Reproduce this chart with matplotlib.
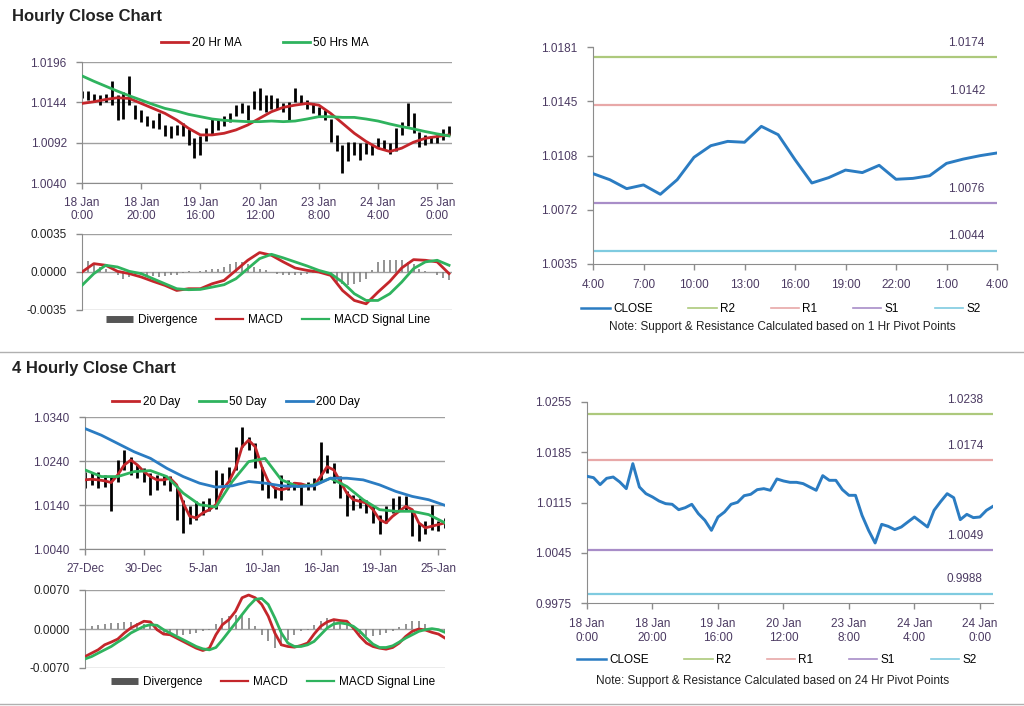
import matplotlib
matplotlib.use('Agg')
import matplotlib.pyplot as plt
from matplotlib.lines import Line2D

plt.rcParams['font.family'] = ['Liberation Sans', 'DejaVu Sans']
plt.rcParams['font.size'] = 8.5

# ---------------- Hourly chart data (2-hour candles, hours 0..124) ----------------
tl_hi = [1.0159, 1.0158, 1.0155, 1.0153, 1.0155, 1.0172, 1.0153, 1.0157, 1.0178, 1.0140,
         1.0134, 1.0126, 1.0121, 1.0130, 1.0115, 1.0113, 1.0115, 1.0117, 1.0109, 1.0098,
         1.0100, 1.0111, 1.0123, 1.0121, 1.0126, 1.0130, 1.0140, 1.0143, 1.0140, 1.0158,
         1.0162, 1.0153, 1.0153, 1.0149, 1.0143, 1.0145, 1.0162, 1.0153, 1.0147, 1.0143,
         1.0138, 1.0134, 1.0123, 1.0102, 1.0089, 1.0093, 1.0093, 1.0091, 1.0091, 1.0089,
         1.0098, 1.0096, 1.0091, 1.0111, 1.0119, 1.0143, 1.0130, 1.0106, 1.0102, 1.0100,
         1.0102, 1.0109, 1.0113]
tl_lo = [1.0149, 1.0147, 1.0145, 1.0140, 1.0144, 1.0141, 1.0121, 1.0123, 1.0140, 1.0123,
         1.0119, 1.0113, 1.0111, 1.0109, 1.0100, 1.0098, 1.0102, 1.0100, 1.0089, 1.0072,
         1.0076, 1.0094, 1.0102, 1.0108, 1.0113, 1.0119, 1.0126, 1.0130, 1.0121, 1.0136,
         1.0134, 1.0132, 1.0136, 1.0136, 1.0132, 1.0121, 1.0145, 1.0143, 1.0136, 1.0130,
         1.0126, 1.0121, 1.0093, 1.0081, 1.0053, 1.0068, 1.0076, 1.0070, 1.0078, 1.0076,
         1.0087, 1.0083, 1.0078, 1.0081, 1.0102, 1.0113, 1.0104, 1.0087, 1.0089, 1.0091,
         1.0091, 1.0096, 1.0102]
# moving averages every 4 hours
tl_ma20 = [1.01426, 1.01447, 1.01477, 1.01499, 1.0149, 1.01426, 1.01362, 1.01298, 1.01212, 1.01105,
           1.0102, 1.0102, 1.01041, 1.01084, 1.01148, 1.01234, 1.01319, 1.01375, 1.01404, 1.01426,
           1.01404, 1.01298, 1.0117, 1.01041, 1.00935, 1.00849, 1.00806, 1.00849, 1.00926, 1.00977,
           1.00999, 1.0102]
tl_ma50 = [1.01781, 1.01712, 1.01648, 1.01584, 1.01524, 1.01469, 1.01413, 1.01362, 1.01328, 1.01285,
           1.01255, 1.01225, 1.01208, 1.01199, 1.01191, 1.01191, 1.01199, 1.01191, 1.01199, 1.01225,
           1.01255, 1.01255, 1.01246, 1.01246, 1.01225, 1.01199, 1.01161, 1.01127, 1.01097, 1.01063,
           1.01033, 1.01007]
tl_macd = [0.0, 0.00077, 0.00062, 0.00006, -0.00015, -0.00046, -0.00086, -0.00123, -0.0017, -0.00154,
           -0.00154, -0.00108, -0.00077, 0.00015, 0.00108, 0.00179, 0.00154, 0.00093, 0.00037, 0.00015,
           0.0, -0.00031, -0.0017, -0.00262, -0.00293, -0.00185, -0.00086, 0.00037, 0.00114, 0.00108,
           0.00093, -0.00015]
tl_signal = [-0.00123, -0.00015, 0.00062, 0.00046, 0.00006, -0.00015, -0.00062, -0.00108, -0.00154, -0.00163,
             -0.0016, -0.00139, -0.00117, -0.00062, 0.00031, 0.00123, 0.00163, 0.0013, 0.00093, 0.00056,
             0.00015, -0.00015, -0.00093, -0.002, -0.00262, -0.00262, -0.002, -0.00093, 0.00031, 0.00093,
             0.00108, 0.00062]
tl_div = [0.0011, 0.001, 0.0008, 0.0005, 0.0003, 0.0, -0.0003, -0.0006, -0.0005, -0.0003,
          -0.00025, -0.0003, -0.00035, -0.00045, -0.0004, -0.0003, -0.00025, -0.0001, 0.00005, 0.0,
          0.00005, 0.00015, 0.00025, 0.0003, 0.00045, 0.00075, 0.0009, 0.0009, 0.00075, 0.00045,
          0.0003, 0.00015, 0.0, -0.00015, -0.0003, -0.0003, -0.0003, -0.00025, -0.00015, -0.0001,
          -0.00005, -0.00015, -0.00045, -0.0009, -0.0011, -0.0012, -0.0011, -0.0009, -0.0006, 0.00015,
          0.0009, 0.0011, 0.0011, 0.0011, 0.0011, 0.0009, 0.00075, 0.0003, 0.0001, 0.0,
          -0.0003, -0.00055, -0.00075]
tl_xlabels = ['18 Jan\n0:00', '18 Jan\n20:00', '19 Jan\n16:00', '20 Jan\n12:00',
              '23 Jan\n8:00', '24 Jan\n4:00', '25 Jan\n0:00']

# ---------------- 1 Hr pivot chart ----------------
tr_close = [1.00958, 1.00917, 1.00857, 1.00882, 1.00819, 1.00917, 1.01068, 1.01146, 1.01175, 1.01169,
            1.01276, 1.0122, 1.01052, 1.00895, 1.00931, 1.00982, 1.00965, 1.01014, 1.0092, 1.00926,
            1.00944, 1.01027, 1.01056, 1.01079, 1.01097]
tr_xlabels = ['4:00', '7:00', '10:00', '13:00', '16:00', '19:00', '22:00', '1:00', '4:00']
tr_levels = [1.0174, 1.0142, 1.0076, 1.0044]

# ---------------- 4 hourly chart data (bars 0..110, every 2nd bar) ----------------
bl_hi = [1.0216, 1.0212, 1.0216, 1.0208, 1.0205, 1.0242, 1.0265, 1.0250, 1.0231, 1.0223,
         1.0212, 1.0208, 1.0208, 1.0205, 1.0182, 1.0152, 1.0137, 1.0148, 1.0148, 1.0156,
         1.0220, 1.0212, 1.0227, 1.0272, 1.0317, 1.0295, 1.0280, 1.0227, 1.0190, 1.0182,
         1.0208, 1.0197, 1.0193, 1.0190, 1.0193, 1.0201, 1.0284, 1.0254, 1.0235, 1.0205,
         1.0171, 1.0163, 1.0156, 1.0152, 1.0137, 1.0118, 1.0137, 1.0156, 1.0160, 1.0160,
         1.0129, 1.0099, 1.0103, 1.0141, 1.0103, 1.0111]
bl_lo = [1.0178, 1.0186, 1.0178, 1.0182, 1.0126, 1.0193, 1.0220, 1.0209, 1.0201, 1.0193,
         1.0163, 1.0175, 1.0186, 1.0171, 1.0107, 1.0077, 1.0096, 1.0107, 1.0118, 1.0126,
         1.0130, 1.0186, 1.0193, 1.0220, 1.0272, 1.0265, 1.0223, 1.0175, 1.0156, 1.0156,
         1.0152, 1.0175, 1.0175, 1.0141, 1.0175, 1.0175, 1.0193, 1.0212, 1.0190, 1.0156,
         1.0114, 1.0129, 1.0133, 1.0122, 1.0099, 1.0073, 1.0099, 1.0122, 1.0129, 1.0126,
         1.0069, 1.0058, 1.0073, 1.0084, 1.0081, 1.0088]
bl_ma20 = [1.01971, 1.01986, 1.01971, 1.01949, 1.01911, 1.02084, 1.0231, 1.02422, 1.0231, 1.02159,
           1.02046, 1.01971, 1.01971, 1.02009, 1.01858, 1.01445, 1.01144, 1.01106, 1.01219, 1.01294,
           1.01407, 1.01746, 1.01934, 1.02234, 1.02723, 1.02874, 1.02723, 1.02272, 1.01934, 1.01783,
           1.01746, 1.01783, 1.01896, 1.01881, 1.01836, 1.01836, 1.02046, 1.02272, 1.02197, 1.01934,
           1.0167, 1.0152, 1.01482, 1.01445, 1.01294, 1.01069, 1.00994, 1.01144, 1.01257, 1.0137,
           1.01294, 1.00994, 1.00881, 1.00918, 1.00956, 1.00994]
# 50 and 200 averages every 5 bars
bl_ma50 = [1.02197, 1.02046, 1.02046, 1.02159, 1.02182, 1.02046, 1.0167, 1.01407, 1.01355, 1.01934,
           1.02385, 1.0246, 1.01971, 1.01821, 1.01858, 1.02009, 1.01821, 1.0152, 1.01294, 1.01257,
           1.01257, 1.01182, 1.00994]
bl_ma200 = [1.03137, 1.02986, 1.02798, 1.0261, 1.0246, 1.02234, 1.02046, 1.01896, 1.01806, 1.01836,
            1.01934, 1.01896, 1.01836, 1.01821, 1.01836, 1.02009, 1.02009, 1.01971, 1.01858, 1.01708,
            1.01595, 1.0152, 1.01392]
bl_macd = [-0.00495, -0.00434, -0.00374, -0.00284, -0.00235, -0.00181, -0.00072, 0.00018, 0.00078, 0.00139,
           0.00127, -0.00012, -0.00091, -0.00103, -0.00163, -0.00223, -0.00284, -0.00344, -0.00386, -0.00344,
           -0.00103, 0.00078, 0.00169, 0.0032, 0.00561, 0.0061, 0.00561, 0.0044, 0.00229, -0.00072,
           -0.00284, -0.00314, -0.00326, -0.00296, -0.00253, -0.00091, 0.00048, 0.00127, 0.00169, 0.00151,
           0.00139, 0.00018, -0.00133, -0.00253, -0.00314, -0.00344, -0.00362, -0.00332, -0.00253, -0.00133,
           -0.00042, 0.0, -0.00018, -0.0006, -0.00091, -0.00163]
bl_signal = [-0.00537, -0.00495, -0.00434, -0.00374, -0.00314, -0.00235, -0.00163, -0.00072, -0.00012, 0.00048,
             0.00078, 0.00066, -0.00012, -0.00072, -0.00133, -0.00193, -0.00253, -0.00314, -0.00356, -0.00374,
             -0.00332, -0.00193, -0.00042, 0.00109, 0.00259, 0.0041, 0.00531, 0.00549, 0.0044, 0.00199,
             -0.00072, -0.00253, -0.00314, -0.00314, -0.00284, -0.00223, -0.00103, 0.00018, 0.00091, 0.00109,
             0.00091, 0.00048, -0.00042, -0.00163, -0.00272, -0.00332, -0.00332, -0.00302, -0.00235, -0.00163,
             -0.00103, -0.00042, -0.00012, 0.00006, -0.00012, -0.0006]
bl_div = [0.00018, 0.00048, 0.00066, 0.00091, 0.00103, 0.00109, 0.00121, 0.00127, 0.00109, 0.00091,
          0.00066, -0.00042, -0.00072, -0.00091, -0.00103, -0.00103, -0.00091, -0.00072, -0.00042, -0.00012,
          0.00091, 0.00199, 0.00229, 0.00259, 0.00272, 0.00199, 0.00048, -0.00103, -0.00223, -0.00344,
          -0.00314, -0.00193, -0.00103, -0.00042, -0.00012, 0.00078, 0.00151, 0.00199, 0.00169, 0.00127,
          0.00078, -0.00012, -0.00091, -0.00133, -0.00133, -0.00103, -0.00072, -0.0003, 0.0003, 0.00091,
          0.00139, 0.00151, 0.00091, 0.00018, -0.00042, -0.00072]
bl_xlabels = ['27-Dec', '30-Dec', '5-Jan', '10-Jan', '16-Jan', '19-Jan', '25-Jan']

# ---------------- 24 Hr pivot chart (every 2 hours) ----------------
br_close = [1.01515, 1.01496, 1.01399, 1.01487, 1.01505, 1.01436, 1.01343, 1.01691, 1.01366, 1.01273,
            1.01227, 1.01171, 1.01134, 1.01125, 1.0105, 1.01078, 1.01125, 1.00995, 1.00902, 1.00762,
            1.00948, 1.01018, 1.01125, 1.01153, 1.01245, 1.01264, 1.01329, 1.01343, 1.0132, 1.01478,
            1.0145, 1.01431, 1.01431, 1.01413, 1.01366, 1.0132, 1.01524, 1.01459, 1.01459, 1.01329,
            1.0125, 1.0125, 1.00971, 1.00762, 1.00586, 1.00846, 1.00818, 1.00772, 1.00809, 1.00879,
            1.00948, 1.00879, 1.00809, 1.01041, 1.01162, 1.01273, 1.01217, 1.00911, 1.00985, 1.00939,
            1.00948, 1.01041, 1.01097]
br_xlabels = ['18 Jan\n0:00', '18 Jan\n20:00', '19 Jan\n16:00', '20 Jan\n12:00',
              '23 Jan\n8:00', '24 Jan\n4:00', '24 Jan\n0:00']
br_levels = [1.0238, 1.0174, 1.0049, 0.9988]

# ---------------- styling ----------------
TICKC = '#4b3a62'
AXC = '#8c8c8c'
RED = '#c4262b'
GREEN = '#2fb35e'
BLUE = '#2b7cc2'
LVL_COLORS = ['#adc97c', '#e8a8a8', '#a88dc8', '#7fcbe0']
LVL_NAMES = ['R2', 'R1', 'S1', 'S2']

W, H = 1024, 706
fig = plt.figure(figsize=(W / 100, H / 100), dpi=100)


def box(l, t, r, b):
    return fig.add_axes([l / W, 1 - b / H, (r - l) / W, (b - t) / H])


def style(ax, grid=True):
    for s in ['top', 'right']:
        ax.spines[s].set_visible(False)
    for s in ['left', 'bottom']:
        ax.spines[s].set_color(AXC)
    ax.tick_params(length=4, color=AXC, width=1, labelsize=8.5)
    ax.tick_params(axis='y', pad=7)
    if grid:
        ax.grid(axis='y', color='#a0a0a0', lw=1)
        ax.set_axisbelow(True)


def price_panel(ax, xs, hi, lo, yt):
    ax.vlines(xs, lo, hi, color='black', lw=2.0, zorder=2)
    ax.set_ylim(yt[0], yt[-1])
    ax.set_yticks(yt)
    ax.set_yticklabels(['%.4f' % v for v in yt])
    style(ax)
    ax.tick_params(axis='both', labelcolor=TICKC)
    ax.tick_params(axis='x', pad=6)


def macd_panel(ax, xd, div, xm, macd, sig, lim, xmax):
    ax.vlines(xd, 0, div, color='#808080', lw=1.2, zorder=2)
    ax.plot(xm, macd, color=RED, lw=2.0, zorder=3)
    ax.plot(xm, sig, color=GREEN, lw=2.0, zorder=3)
    ax.set_ylim(-lim, lim)
    ax.set_yticks([-lim, 0, lim])
    ax.set_yticklabels(['%.4f' % -lim, '0.0000', '%.4f' % lim])
    ax.set_xlim(0, xmax)
    ax.set_xticks([])
    style(ax)
    ax.spines['bottom'].set_visible(False)
    ax.tick_params(axis='y', labelcolor='#222222')


def macd_legend(x, y):
    hs = [Line2D([], [], color='#555555', lw=5, solid_capstyle='butt'),
          Line2D([], [], color=RED, lw=1.6),
          Line2D([], [], color=GREEN, lw=1.6)]
    fig.legend(hs, ['Divergence', 'MACD', 'MACD Signal Line'], loc='center',
               bbox_to_anchor=(x / W, 1 - y / H), ncol=3, frameon=False,
               handlelength=2.3, columnspacing=1.6, handletextpad=0.4, fontsize=8.5)


def pivot_panel(ax, xs, close, levels, yt, ylabels, lab_x):
    ax.plot(xs, close, color=BLUE, lw=2.1, zorder=3)
    for v, c in zip(levels, LVL_COLORS):
        ax.axhline(v, color=c, lw=1.6, zorder=2)
        ax.annotate('%.4f' % v, xy=(lab_x, v), xytext=(0, 6), textcoords='offset points',
                    ha='center', va='bottom', color=TICKC, fontsize=8.5)
    ax.set_ylim(yt[0], yt[-1])
    ax.set_yticks(yt)
    ax.set_yticklabels(ylabels)
    style(ax, grid=False)
    ax.tick_params(axis='both', labelcolor=TICKC)
    ax.tick_params(axis='x', pad=7)


def pivot_legend(x, y):
    hs = [Line2D([], [], color=BLUE, lw=1.8)] + [Line2D([], [], color=c, lw=1.2) for c in LVL_COLORS]
    fig.legend(hs, ['CLOSE'] + LVL_NAMES, loc='center', bbox_to_anchor=(x / W, 1 - y / H),
               ncol=5, frameon=False, handlelength=2.4, columnspacing=3.0,
               handletextpad=0.3, fontsize=8.5)


# ================= Hourly close chart =================
fig.text(12 / W, 1 - 16 / H, 'Hourly Close Chart', fontsize=12, fontweight='bold',
         va='center', ha='left', color='#222222')

ax1 = box(82, 62, 452, 183)
x_c = list(range(0, 125, 2))
x_m = list(range(0, 125, 4))
price_panel(ax1, x_c, tl_hi, tl_lo, [1.0040, 1.0092, 1.0144, 1.0196])
ax1.plot(x_m, tl_ma20, color=RED, lw=2.0, zorder=3, label='20 Hr MA')
ax1.plot(x_m, tl_ma50, color=GREEN, lw=2.0, zorder=3, label='50 Hrs MA')
ax1.set_xlim(0, 125)
ax1.set_xticks(range(0, 121, 20))
ax1.set_xticklabels(tl_xlabels, linespacing=1.15)
fig.legend(*ax1.get_legend_handles_labels(), loc='center', bbox_to_anchor=(265 / W, 1 - 43 / H),
           ncol=2, frameon=False, handlelength=2.3, columnspacing=3.5, handletextpad=0.3, fontsize=8.5)

ax2 = box(82, 234, 452, 310)
macd_panel(ax2, x_c, tl_div, x_m, tl_macd, tl_signal, 0.0035, 125)
macd_legend(268, 320)

ax3 = box(593, 47, 997, 264)
pivot_panel(ax3, list(range(25)), tr_close, tr_levels,
            [1.0035, 1.00715, 1.0108, 1.01445, 1.0181],
            ['1.0035', '1.0072', '1.0108', '1.0145', '1.0181'], 22.2)
ax3.set_xlim(0, 24)
ax3.set_xticks(range(0, 25, 3))
ax3.set_xticklabels(tr_xlabels)
pivot_legend(781, 309)
fig.text(782 / W, 1 - 327 / H, 'Note: Support & Resistance Calculated based on 1 Hr Pivot Points',
         ha='center', va='center', fontsize=8.5, color='#222222')

# separators
for yy in (352, 704):
    fig.add_artist(Line2D([0, 1], [1 - yy / H] * 2, transform=fig.transFigure, color='#b0b0b0', lw=1))

# ================= 4 hourly close chart =================
fig.text(12 / W, 1 - 369 / H, '4 Hourly Close Chart', fontsize=12, fontweight='bold',
         va='center', ha='left', color='#222222')

ax4 = box(85, 417, 445, 549)
xb = list(range(0, 111, 2))
xb5 = list(range(0, 111, 5))
price_panel(ax4, xb, bl_hi, bl_lo, [1.0040, 1.0140, 1.0240, 1.0340])
ax4.plot(xb, bl_ma20, color=RED, lw=2.0, zorder=3, label='20 Day')
ax4.plot(xb5, bl_ma50, color=GREEN, lw=2.0, zorder=3, label='50 Day')
ax4.plot(xb5, bl_ma200, color=BLUE, lw=2.0, zorder=3, label='200 Day')
ax4.set_xlim(0, 110)
ax4.set_xticks(range(0, 109, 18))
ax4.set_xticklabels(bl_xlabels)
fig.legend(*ax4.get_legend_handles_labels(), loc='center', bbox_to_anchor=(236 / W, 1 - 402 / H),
           ncol=3, frameon=False, handlelength=2.3, columnspacing=1.6, handletextpad=0.3, fontsize=8.5)

ax5 = box(85, 590, 445, 668)
macd_panel(ax5, xb, bl_div, xb, bl_macd, bl_signal, 0.0070, 110)
macd_legend(273, 682)

ax6 = box(587, 402, 993, 603)
pivot_panel(ax6, list(range(0, 125, 2)), br_close, br_levels,
            [0.9975, 1.0045, 1.0115, 1.0185, 1.0255],
            ['0.9975', '1.0045', '1.0115', '1.0185', '1.0255'], 115.4)
ax6.set_xlim(0, 124)
ax6.set_xticks(range(0, 121, 20))
ax6.set_xticklabels(br_xlabels, linespacing=1.15)
pivot_legend(777, 660)
fig.text(773 / W, 1 - 681 / H, 'Note: Support & Resistance Calculated based on 24 Hr Pivot Points',
         ha='center', va='center', fontsize=8.5, color='#222222')

fig.savefig('out.png', dpi=100, facecolor='white')
